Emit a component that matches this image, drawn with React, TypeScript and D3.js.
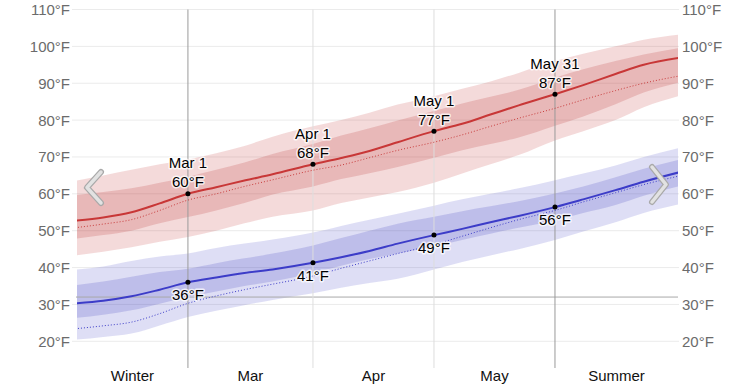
import React from 'react';
import * as d3 from 'd3';

// day of year (Jan 1 = 0)
const days = [31, 38, 45, 52, 59, 66, 73, 80, 90, 97, 104, 111, 120, 127, 134, 141, 150, 157, 165, 172, 181];

const highAvg = [52.7, 53.6, 55.0, 57.4, 60.0, 61.8, 63.6, 65.3, 68.0, 69.7, 71.6, 74.0, 77.0, 79.0, 81.5, 84.0, 87.0, 89.5, 92.5, 95.0, 96.9];
const highP90 = [63.5, 65.0, 66.5, 68.0, 69.3, 71.0, 73.0, 75.5, 78.3, 80.0, 82.0, 84.2, 86.5, 88.5, 90.5, 92.8, 96.0, 98.0, 100.0, 101.8, 103.2];
const highP75 = [59.6, 60.5, 61.5, 63.0, 64.6, 66.5, 68.5, 70.8, 73.5, 75.8, 77.8, 79.9, 82.5, 84.5, 86.3, 88.2, 91.5, 93.8, 96.0, 97.8, 99.6];
const highP25 = [47.8, 48.8, 50.0, 52.0, 53.7, 55.5, 57.5, 59.8, 62.0, 64.0, 65.6, 67.3, 69.8, 71.8, 73.5, 75.3, 78.5, 81.0, 84.3, 87.5, 90.3];
const highP10 = [43.3, 44.3, 45.5, 47.0, 48.3, 50.0, 52.0, 53.8, 55.5, 57.5, 59.0, 60.5, 63.0, 65.5, 68.0, 70.5, 74.5, 77.0, 80.0, 83.5, 86.6];
const highPrev = [50.8, 51.8, 53.0, 55.5, 58.3, 60.0, 62.0, 63.8, 66.4, 67.8, 69.8, 71.8, 74.0, 76.0, 78.3, 80.5, 83.2, 85.5, 88.0, 90.0, 92.0];

const lowAvg = [30.3, 31.0, 32.2, 34.0, 36.0, 37.3, 38.5, 39.5, 41.3, 42.8, 44.5, 46.5, 48.8, 50.5, 52.3, 54.0, 56.4, 58.5, 61.0, 63.3, 65.9];
const lowP90 = [39.4, 40.3, 41.8, 43.0, 43.8, 45.3, 46.5, 47.6, 49.5, 51.3, 53.0, 54.6, 56.8, 58.5, 60.0, 61.5, 63.7, 65.5, 67.7, 70.0, 72.5];
const lowP75 = [35.2, 36.2, 37.5, 38.8, 39.7, 41.2, 42.5, 43.8, 46.0, 48.0, 50.0, 51.9, 53.8, 55.3, 56.6, 58.0, 60.1, 62.0, 64.5, 66.8, 69.3];
const lowP25 = [26.3, 27.2, 28.4, 30.2, 32.0, 33.5, 35.0, 36.2, 38.5, 40.5, 42.3, 43.8, 45.8, 47.5, 49.2, 50.8, 52.8, 54.8, 57.0, 59.5, 62.1];
const lowP10 = [20.4, 21.2, 22.1, 24.3, 26.6, 28.3, 29.8, 31.2, 33.0, 34.5, 35.8, 37.0, 39.5, 41.5, 43.3, 45.0, 47.5, 49.8, 52.3, 54.8, 57.2];
const lowPrev = [23.4, 24.2, 25.2, 27.5, 30.3, 32.3, 34.0, 35.5, 37.7, 39.8, 41.8, 43.8, 46.2, 48.5, 50.8, 53.0, 55.5, 57.8, 60.3, 62.5, 64.9];

const markerDays = [59, 90, 120, 150];
const markerNames = ['Mar 1', 'Apr 1', 'May 1', 'May 31'];
const markerStrong = [true, false, false, true];
const periodBounds = [31.5, 59, 90, 120, 150, 180.5];
const periodLabels = ['Winter', 'Mar', 'Apr', 'May', 'Summer'];
const yTicks = [20, 30, 40, 50, 60, 70, 80, 90, 100, 110];
const freezing = 32;

const FONT = '"Liberation Sans", Arial, Helvetica, sans-serif';

export default function App() {
  const W = 753, H = 387;
  const x = d3.scaleLinear().domain([31.5, 180.5]).range([77, 678]);
  const y = d3.scaleLinear().domain([20, 110]).range([341.3, 9.5]);

  const idx = days.map((_, i) => i);
  const band = (lo: number[], hi: number[]) =>
    d3.area<number>().x(i => x(days[i])).y0(i => y(lo[i])).y1(i => y(hi[i])).curve(d3.curveMonotoneX)(idx) || '';
  const line = (v: number[]) =>
    d3.line<number>().x(i => x(days[i])).y(i => y(v[i])).curve(d3.curveMonotoneX)(idx) || '';

  const haloStyle = { paintOrder: 'stroke' as const, stroke: 'rgba(255,255,255,0.75)', strokeWidth: 3, strokeLinejoin: 'round' as const };

  return (
    <svg width={W} height={H} style={{ position: 'absolute', left: 0, top: 0, background: '#fff' }} fontFamily={FONT}>
      <defs>
        <clipPath id="plotclip">
          <rect x={77} y={0} width={601} height={H} />
        </clipPath>
      </defs>
      {/* grid */}
      {yTicks.map(t => (
        <line key={'g' + t} x1={72} x2={679} y1={y(t)} y2={y(t)} stroke="#ebebeb" strokeWidth={1} />
      ))}
      {yTicks.map(t => (
        <text key={'l' + t} x={70} y={y(t)} dy="0.36em" textAnchor="end" fontSize={15} fill="#6b6b6b">{t}°F</text>
      ))}
      {yTicks.map(t => (
        <text key={'r' + t} x={682} y={y(t)} dy="0.36em" textAnchor="start" fontSize={15} fill="#6b6b6b">{t}°F</text>
      ))}
      <g clipPath="url(#plotclip)">
        <path d={band(highP10, highP90)} fill="rgb(195,60,60)" fillOpacity={0.19} />
        <path d={band(highP25, highP75)} fill="rgb(190,55,55)" fillOpacity={0.21} />
        <path d={band(lowP10, lowP90)} fill="rgb(70,70,200)" fillOpacity={0.18} />
        <path d={band(lowP25, lowP75)} fill="rgb(65,65,190)" fillOpacity={0.2} />
      </g>
      {/* freezing line */}
      <line x1={76} x2={678} y1={y(freezing)} y2={y(freezing)} stroke="#a8a8a8" strokeWidth={1} />
      {/* month / season boundaries */}
      {markerDays.map((d, i) => (
        <line key={'v' + d} x1={x(d)} x2={x(d)} y1={9.5} y2={368} stroke={markerStrong[i] ? '#9a9a9a' : '#dedede'} strokeWidth={1} />
      ))}
      <g clipPath="url(#plotclip)">
        <path d={line(highPrev)} fill="none" stroke="rgb(200,60,60)" strokeWidth={1} strokeDasharray="1,2" />
        <path d={line(lowPrev)} fill="none" stroke="rgb(60,60,200)" strokeWidth={1} strokeDasharray="1,2" />
        <path d={line(highAvg)} fill="none" stroke="rgb(200,55,55)" strokeWidth={2} />
        <path d={line(lowAvg)} fill="none" stroke="rgb(60,60,200)" strokeWidth={2} />
      </g>
      {/* annotations */}
      {markerDays.map((d, i) => {
        const k = days.indexOf(d);
        const hx = x(d), hy = y(highAvg[k]), ly = y(lowAvg[k]);
        return (
          <g key={'m' + d}>
            <circle cx={hx} cy={hy} r={2.5} fill="#000" />
            <circle cx={hx} cy={ly} r={2.5} fill="#000" />
            <text x={hx} y={hy - 25.5} textAnchor="middle" fontSize={15} fill="#000" style={haloStyle}>{markerNames[i]}</text>
            <text x={hx} y={hy - 6.5} textAnchor="middle" fontSize={15} fill="#000" style={haloStyle}>{Math.round(highAvg[k])}°F</text>
            <text x={hx} y={ly + 18} textAnchor="middle" fontSize={15} fill="#000" style={haloStyle}>{Math.round(lowAvg[k])}°F</text>
          </g>
        );
      })}
      {/* period labels */}
      {periodLabels.map((p, i) => (
        <text key={'p' + p} x={(x(periodBounds[i]) + x(periodBounds[i + 1])) / 2} y={381} textAnchor="middle" fontSize={15} fill="#111">{p}</text>
      ))}
      {/* nav arrows */}
      <path d="M101,172 L87,187.5 L101,203" fill="none" stroke="#a9a9a9" strokeWidth={6} strokeLinecap="round" strokeLinejoin="round" />
      <path d="M101,172 L87,187.5 L101,203" fill="none" stroke="#e2e2e2" strokeWidth={3.5} strokeLinecap="round" strokeLinejoin="round" />
      <path d="M652,167 L666,184.5 L652,202" fill="none" stroke="#a9a9a9" strokeWidth={6} strokeLinecap="round" strokeLinejoin="round" />
      <path d="M652,167 L666,184.5 L652,202" fill="none" stroke="#e2e2e2" strokeWidth={3.5} strokeLinecap="round" strokeLinejoin="round" />
    </svg>
  );
}
